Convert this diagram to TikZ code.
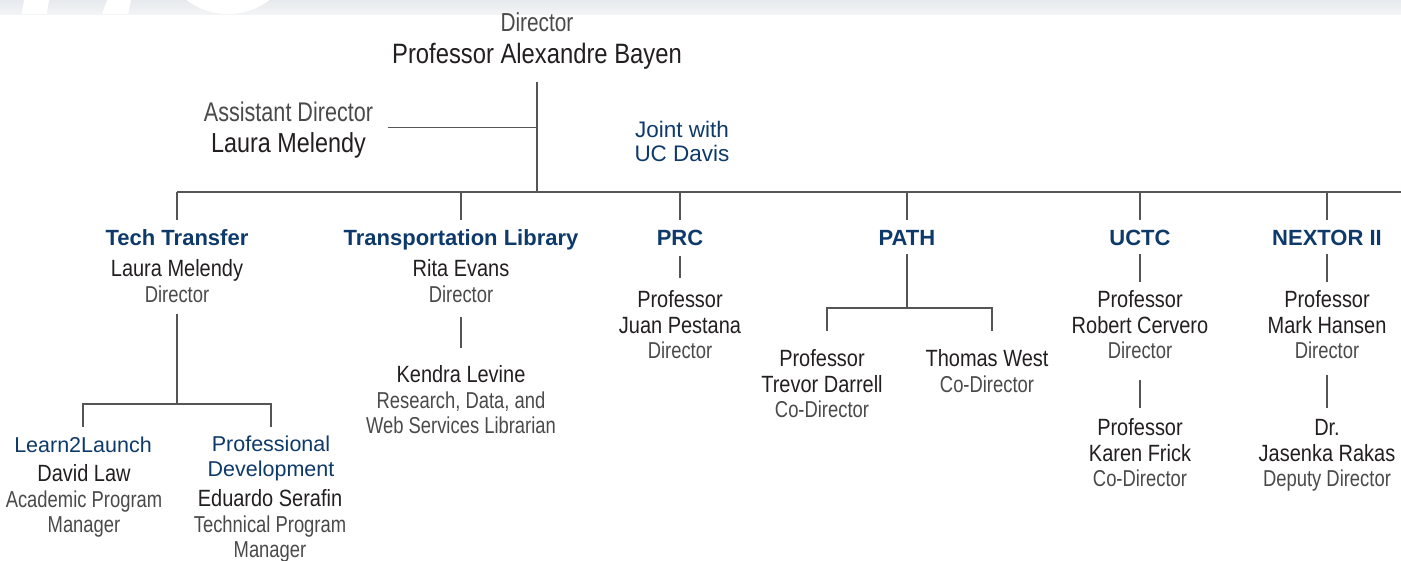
\documentclass[tikz,border=0pt]{standalone}
\usepackage{fontspec}
\setmainfont{Liberation Sans}
\newfontfamily\nmfam[FakeStretch=0.85]{Liberation Sans}
\newfontfamily\tlfam[FakeStretch=0.80]{Liberation Sans}
\definecolor{blu}{HTML}{0E3A6B}
\definecolor{nmc}{HTML}{231F20}
\definecolor{tlc}{HTML}{4A4A4A}
\definecolor{lnc}{HTML}{555555}
\definecolor{bandtop}{HTML}{E6EAEE}
\definecolor{bandbot}{HTML}{F3F4F6}
\newcommand\namef{\nmfam\fontsize{23.5pt}{25.5pt}\selectfont\color{nmc}}
\newcommand\titf{\tlfam\fontsize{23pt}{25.5pt}\selectfont\color{tlc}}
\newcommand\hdf{\bfseries\fontsize{22pt}{25pt}\selectfont}
\newcommand\subf{\fontsize{21.5pt}{25pt}\selectfont\color{blu}}
\newcommand\stA{\rule[-4.35pt]{0pt}{25.5pt}}
\newcommand\stP{\rule[-4.8pt]{0pt}{25pt}}
\newcommand\stB{\rule[-5.8pt]{0pt}{31pt}}
\newcommand\stJ{\rule[-4.1pt]{0pt}{24pt}}
\newcommand\nolsk{\lineskiplimit-1000pt\relax}
\tikzset{
  ln/.style={draw=lnc, line width=1.3pt},
  hd/.style={inner sep=0pt, text height=16pt, text depth=0pt, minimum height=34pt, font=\hdf, text=blu},
  sub/.style={inner sep=0pt, text height=15.4pt, text depth=0pt, font=\subf, text=blu},
  blk/.style={inner xsep=0pt, inner ysep=0pt, align=center, anchor=north,
    font={\fontsize{23.5pt}{25.5pt}\selectfont\nolsk}},
  blkp/.style={inner xsep=0pt, inner ysep=0pt, align=center, anchor=north,
    font={\fontsize{21.5pt}{25pt}\selectfont\nolsk}},
}
\begin{document}
\begin{tikzpicture}[x=1pt,y=-1pt]
\useasboundingbox (0,0) rectangle (1401,560);
\fill[white] (0,0) rectangle (1401,560);
% top band
\shade[top color=bandtop, bottom color=bandbot] (0,0) rectangle (1401,14);
\fill[white] (24,0) -- (49,0) -- (46.7,14) -- (21.7,14) -- cycle;
\fill[white] (107,0) -- (131,0) -- (128,14) -- (102,14) -- cycle;
\begin{scope}
  \clip (0,0) rectangle (1401,14);
  \fill[white] (228,-54.5) circle (68.5);
\end{scope}

% coordinates
\coordinate (j0) at (537,192);
\coordinate (adj) at (537,127.5);
\coordinate (bl) at (177,192);
\coordinate (br) at (1401,192);
\coordinate (ttj) at (177,404);
\coordinate (pathj) at (907,308);
\coordinate (pt1) at (827,331);
\coordinate (pt2) at (992,331);

% top
\node[inner sep=0pt, text height=18.6pt, text depth=0pt, font={\tlfam\fontsize{26pt}{30pt}\selectfont}, text=tlc] (topt) at (537,22) {Director};
\node[inner sep=0pt, text height=20pt, text depth=0pt, font={\nmfam\fontsize{28pt}{32pt}\selectfont}, text=nmc] (top) at (537,53) {Professor Alexandre Bayen};
\node[inner sep=0pt, align=center, font={\fontsize{27pt}{31pt}\selectfont\nolsk}] (ad) at (288.5,127.5)
  {\stB{\tlfam\fontsize{27pt}{31pt}\selectfont\color{tlc}Assistant Director}\\\stB{\nmfam\fontsize{27.5pt}{31pt}\selectfont\color{nmc}Laura Melendy}};
\node[inner sep=0pt, align=center, font={\fontsize{22.5pt}{24pt}\selectfont\nolsk}, text=blu] (joint) at (682,142)
  {\stJ Joint with\\\stJ UC Davis};

% headings
\node[hd] (tt) at (177,237) {Tech Transfer};
\node[hd] (tl) at (461,237) {Transportation Library};
\node[hd] (prc) at (680,237) {PRC};
\node[hd] (path) at (907,237) {PATH};
\node[hd] (uctc) at (1140,237) {UCTC};
\node[hd] (nex) at (1327,237) {NEXTOR II};

% person blocks
\node[blk] (ttp) at (177,255.25) {\stA{\namef Laura Melendy}\\\stA{\titf Director}};
\node[blk] (tlp) at (461,255.25) {\stA{\namef Rita Evans}\\\stA{\titf Director}};
\node[blk] (kl) at (461,361.25) {\stA{\namef Kendra Levine}\\\stA{\titf Research, Data, and}\\\stA{\titf Web Services Librarian}};
\node[blk] (prcp) at (680,286.25) {\stA{\namef Professor}\\\stA{\namef Juan Pestana}\\\stA{\titf Director}};
\node[blk] (pa1) at (822,345.25) {\stA{\namef Professor}\\\stA{\namef Trevor Darrell}\\\stA{\titf Co-Director}};
\node[blk] (pa2) at (987,345.25) {\stA{\namef Thomas West}\\\stA{\titf Co-Director}};
\node[blk] (ucp1) at (1140,286.25) {\stA{\namef Professor}\\\stA{\namef Robert Cervero}\\\stA{\titf Director}};
\node[blk] (ucp2) at (1140,414.25) {\stA{\namef Professor}\\\stA{\namef Karen Frick}\\\stA{\titf Co-Director}};
\node[blk] (nxp1) at (1327,286.25) {\stA{\namef Professor}\\\stA{\namef Mark Hansen}\\\stA{\titf Director}};
\node[blk] (nxp2) at (1327,414.25) {\stA{\namef Dr.}\\\stA{\namef Jasenka Rakas}\\\stA{\titf Deputy Director}};

% tech transfer sub units
\node[sub] (l2l) at (83,445) {Learn2Launch};
\node[blkp] (pd) at (271,431.5) {\stP{\subf Professional}\\\stP{\subf Development}};
\node[blk] (l2lp) at (84,460.25) {\stA{\namef David Law}\\\stA{\titf Academic Program}\\\stA{\titf Manager}};
\node[blk] (pdp) at (270,485.25) {\stA{\namef Eduardo Serafin}\\\stA{\titf Technical Program}\\\stA{\titf Manager}};

% connectors
\draw[ln, shorten <=19pt] (top) -- (j0);
\draw[ln, shorten <=15pt] (ad) -- (adj);
\draw[ln] (bl) -- (br);
\draw[ln] (tt) -- (tt |- bl);
\draw[ln] (tl) -- (tl |- bl);
\draw[ln] (prc) -- (prc |- bl);
\draw[ln] (path) -- (path |- bl);
\draw[ln] (uctc) -- (uctc |- bl);
\draw[ln] (nex) -- (nex |- bl);
\draw[ln, shorten <=7pt] (ttp) -- (ttj);
\draw[ln, shorten <=10.3pt, shorten >=4.5pt] (l2l) -- (l2l |- ttj) -- (pd |- ttj) -- (pd);
\draw[ln, shorten <=10pt, shorten >=13.25pt] (tlp) -- (kl);
\draw[ln, shorten <=2pt, shorten >=8.25pt] (prc) -- (prcp);
\draw[ln] (path) -- (pathj);
\draw[ln] (pt1) |- (pathj) -| (pt2);
\draw[ln, shorten >=4.25pt] (uctc) -- (ucp1);
\draw[ln, shorten <=16.4pt, shorten >=6.25pt] (ucp1) -- (ucp2);
\draw[ln, shorten >=4.25pt] (nex) -- (nxp1);
\draw[ln, shorten <=11.4pt, shorten >=6.25pt] (nxp1) -- (nxp2);
\end{tikzpicture}
\end{document}
